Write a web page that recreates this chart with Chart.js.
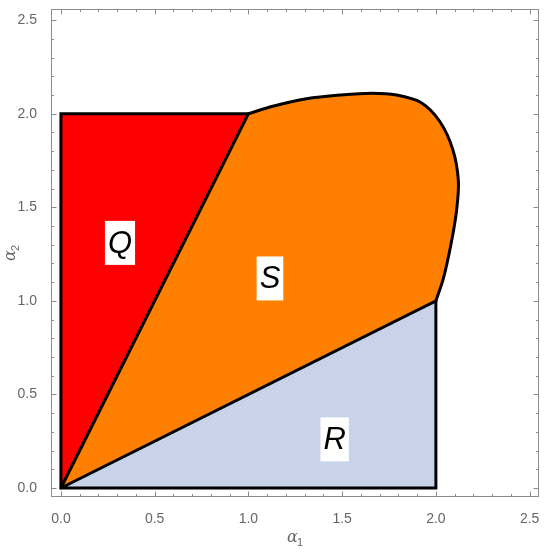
<!DOCTYPE html>
<html>
<head>
<meta charset="utf-8">
<script src="https://cdn.jsdelivr.net/npm/chart.js@4.4.1/dist/chart.umd.min.js"></script>
<style>
  html, body { margin: 0; padding: 0; background: #fff; }
  #wrap { width: 550px; height: 552px; position: relative; }
</style>
</head>
<body>
<div id="wrap"><canvas id="chart"></canvas></div>
<script>
// Region Q: triangle left of the line a2 = 2*a1
const qX = [0, 0, 1, 0];
const qY = [0, 2, 2, 0];
// Region R: triangle below the line a2 = a1/2
const rX = [0, 2, 2, 0];
const rY = [0, 0, 1, 0];
// Region S: curved boundary from (1,2) round to (2,1), closed through the origin
const sCurveX = [1.00, 1.13, 1.31, 1.49, 1.66, 1.79, 1.92, 2.02, 2.09, 2.12, 2.11, 2.08, 2.04, 2.00];
const sCurveY = [2.00, 2.04, 2.08, 2.10, 2.11, 2.10, 2.06, 1.96, 1.81, 1.64, 1.48, 1.30, 1.12, 1.00];
const sApex = [0, 0];
// Region labels
const labelText = ['Q', 'S', 'R'];
const labelX = [0.315, 1.115, 1.46];
const labelY = [1.31, 1.12, 0.26];
// Axis ticks
const xTicks = [0, 0.5, 1.0, 1.5, 2.0, 2.5];
const yTicks = [0, 0.5, 1.0, 1.5, 2.0, 2.5];

const toPoints = (xs, ys) => xs.map((x, i) => ({x: x, y: ys[i]}));

// dotted light blue texture for R
function makePattern() {
    const c = document.createElement('canvas');
    c.width = 4; c.height = 4;
    const g = c.getContext('2d');
    g.fillStyle = '#cbd5ea';
    g.fillRect(0, 0, 4, 4);
    g.fillStyle = '#bac6e0';
    g.fillRect(0, 0, 1, 1);
    g.fillRect(2, 2, 1, 1);
    return g.createPattern(c, 'repeat');
}

// fill each region before the outlines are drawn
const regionFill = {
    id: 'regionFill',
    beforeDatasetsDraw(chart) {
        const ctx = chart.ctx;
        const a = chart.chartArea;
        ctx.save();
        ctx.beginPath();
        ctx.rect(a.left, a.top, a.right - a.left, a.bottom - a.top);
        ctx.clip();
        chart.data.datasets.forEach((ds, i) => {
            if (!ds.areaColor) return;
            const meta = chart.getDatasetMeta(i);
            ctx.beginPath();
            if (ds.apex) {
                meta.dataset.path(ctx);
                ctx.lineTo(chart.scales.x.getPixelForValue(ds.apex[0]),
                           chart.scales.y.getPixelForValue(ds.apex[1]));
            } else {
                meta.data.forEach((p, j) => j ? ctx.lineTo(p.x, p.y) : ctx.moveTo(p.x, p.y));
            }
            ctx.closePath();
            ctx.fillStyle = ds.areaColor;
            ctx.fill();
        });
        ctx.restore();
    }
};

// frame with inward ticks, labels in boxes, axis titles
const frameAndLabels = {
    id: 'frameAndLabels',
    afterDraw(chart) {
        const ctx = chart.ctx;
        const a = chart.chartArea;
        const xs = chart.scales.x, ys = chart.scales.y;
        ctx.save();

        // region labels
        ctx.font = 'italic 31px "Liberation Sans", Arial, sans-serif';
        ctx.textAlign = 'center';
        ctx.textBaseline = 'middle';
        labelText.forEach((t, i) => {
            const px = xs.getPixelForValue(labelX[i]);
            const py = ys.getPixelForValue(labelY[i]);
            const w = ctx.measureText(t).width + 6;
            ctx.fillStyle = '#ffffff';
            ctx.fillRect(px - w / 2, py - 22, w, 44);
            ctx.fillStyle = '#000000';
            ctx.fillText(t, px, py + 1);
        });

        // frame
        ctx.strokeStyle = '#8c8c8c';
        ctx.lineWidth = 1;
        ctx.strokeRect(Math.round(a.left) + 0.5, Math.round(a.top) + 0.5,
                       Math.round(a.right - a.left) - 1, Math.round(a.bottom - a.top) - 1);

        // ticks every 0.1, major every 0.5
        ctx.beginPath();
        for (let k = 0; k <= 25; k++) {
            const v = k / 10;
            const len = (k % 5 === 0) ? 5.5 : 3;
            const px = Math.round(xs.getPixelForValue(v)) + 0.5;
            const py = Math.round(ys.getPixelForValue(v)) + 0.5;
            ctx.moveTo(px, a.bottom); ctx.lineTo(px, a.bottom - len);
            ctx.moveTo(px, a.top); ctx.lineTo(px, a.top + len);
            ctx.moveTo(a.left, py); ctx.lineTo(a.left + len, py);
            ctx.moveTo(a.right, py); ctx.lineTo(a.right - len, py);
        }
        ctx.stroke();

        // axis titles
        ctx.fillStyle = '#666666';
        ctx.textBaseline = 'alphabetic';
        ctx.textAlign = 'left';
        const cx = (a.left + a.right) / 2;
        ctx.font = 'italic 16px "DejaVu Serif", serif';
        ctx.fillText('\u03b1', cx - 8, 542);
        ctx.font = '11px "Liberation Sans", Arial, sans-serif';
        ctx.fillText('1', cx + 2, 546);

        ctx.translate(15, (a.top + a.bottom) / 2);
        ctx.rotate(-Math.PI / 2);
        ctx.font = 'italic 16px "DejaVu Serif", serif';
        ctx.fillText('\u03b1', -8, 0);
        ctx.font = '11px "Liberation Sans", Arial, sans-serif';
        ctx.fillText('2', 2, 4);
        ctx.restore();
    }
};

const line = {
    showLine: true,
    pointRadius: 0,
    pointHoverRadius: 0,
    borderColor: '#000000',
    borderWidth: 3,
    borderJoinStyle: 'miter',
    borderCapStyle: 'round',
    fill: false
};

new Chart(document.getElementById('chart'), {
    type: 'scatter',
    data: {
        datasets: [
            Object.assign({}, line, {label: 'Q', data: toPoints(qX, qY), areaColor: '#ff0000', tension: 0}),
            Object.assign({}, line, {label: 'S', data: toPoints(sCurveX, sCurveY), areaColor: '#ff8000', apex: sApex, tension: 0.32}),
            Object.assign({}, line, {label: 'R', data: toPoints(rX, rY), areaColor: makePattern(), tension: 0})
        ]
    },
    options: {
        responsive: true,
        maintainAspectRatio: false,
        animation: false,
        events: [],
        layout: { padding: { top: 9, right: 11, left: 0, bottom: 0 } },
        plugins: { legend: { display: false }, tooltip: { enabled: false } },
        scales: {
            x: {
                type: 'linear',
                min: -0.053,
                max: 2.55,
                grid: { display: false },
                border: { display: false },
                afterBuildTicks: s => { s.ticks = xTicks.map(v => ({value: v})); },
                afterFit: s => { s.height = 55; s.paddingLeft = 0; s.paddingRight = 0; },
                ticks: {
                    padding: 6,
                    color: '#666666',
                    font: { family: '"Liberation Sans", Arial, sans-serif', size: 14 },
                    maxRotation: 0,
                    callback: v => Number(v).toFixed(1)
                }
            },
            y: {
                type: 'linear',
                min: -0.048,
                max: 2.56,
                grid: { display: false },
                border: { display: false },
                afterBuildTicks: s => { s.ticks = yTicks.map(v => ({value: v})); },
                afterFit: s => { s.width = 51; s.paddingTop = 0; s.paddingBottom = 0; },
                ticks: {
                    padding: 6,
                    color: '#666666',
                    font: { family: '"Liberation Sans", Arial, sans-serif', size: 14 },
                    callback: v => Number(v).toFixed(1)
                }
            }
        }
    },
    plugins: [regionFill, frameAndLabels]
});
</script>
</body>
</html>
